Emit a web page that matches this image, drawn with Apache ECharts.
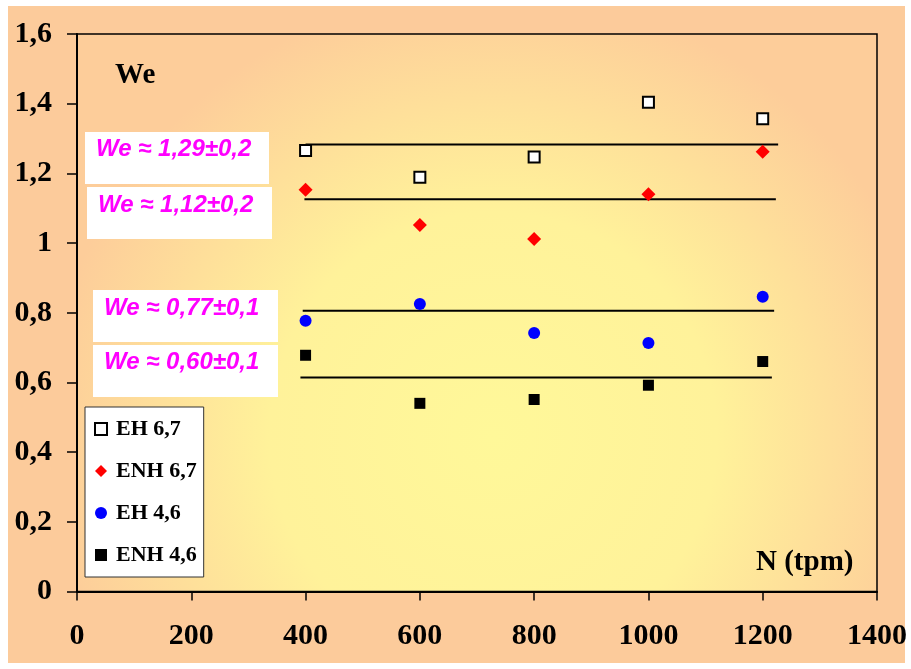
<!DOCTYPE html>
<html>
<head>
<meta charset="utf-8">
<script src="https://cdn.jsdelivr.net/npm/echarts@6/dist/echarts.min.js"></script>
<style>
html,body{margin:0;padding:0;background:#ffffff;}
#chart{position:absolute;left:0;top:0;width:911px;height:669px;}
</style>
</head>
<body>
<div id="chart"></div>
<script>
// ---- data ----
const xValues = [400, 600, 800, 1000, 1200];
const seriesNames = ['EH 6,7', 'ENH 6,7', 'EH 4,6', 'ENH 4,6'];
const eh67  = [1.266, 1.189, 1.247, 1.404, 1.357];
const enh67 = [1.153, 1.052, 1.012, 1.140, 1.262];
const eh46  = [0.777, 0.825, 0.742, 0.713, 0.846];
const enh46 = [0.678, 0.540, 0.551, 0.592, 0.660];
const fitLevels = [1.283, 1.126, 0.806, 0.614];
const fitStart  = [400, 398, 395, 391];
const fitEnd    = [1227, 1223, 1220, 1216];
const fitLabels = ['We ≈ 1,29±0,2', 'We ≈ 1,12±0,2', 'We ≈ 0,77±0,1', 'We ≈ 0,60±0,1'];
const yAxisTitle = 'We';
const xAxisTitle = 'N (tpm)';

// ---- chart ----
const chart = echarts.init(document.getElementById('chart'));
const pairs = arr => xValues.map((x, i) => [x, arr[i]]);
const serif = '"Liberation Serif", "Times New Roman", serif';
const sans = '"Liberation Sans", Arial, sans-serif';

const markerStyles = [
  {symbol: 'rect', symbolSize: 11, itemStyle: {color: '#ffffff', borderColor: '#000000', borderWidth: 2, opacity: 1}},
  {symbol: 'diamond', symbolSize: 14, itemStyle: {color: '#ff0000', opacity: 1}},
  {symbol: 'circle', symbolSize: 12, itemStyle: {color: '#0000ff', opacity: 1}},
  {symbol: 'rect', symbolSize: 11, itemStyle: {color: '#000000', opacity: 1}}
];
const dataSets = [eh67, enh67, eh46, enh46];

const series = [];
dataSets.forEach((d, i) => {
  series.push(Object.assign({
    name: seriesNames[i], type: 'scatter', data: pairs(d), z: 5
  }, markerStyles[i]));
});
fitLevels.forEach((lv, i) => {
  series.push({
    name: 'fit' + i, type: 'line', silent: true, symbol: 'none', z: 3,
    lineStyle: {color: '#000000', width: 2},
    data: [[fitStart[i], lv], [fitEnd[i], lv]]
  });
});

const boxes = [
  {x: 85, y: 132, w: 184, h: 52, tx: 96, ty: 149},
  {x: 87, y: 187, w: 185, h: 52, tx: 98, ty: 205},
  {x: 93, y: 290, w: 185, h: 52, tx: 104, ty: 308},
  {x: 93, y: 345, w: 185, h: 52, tx: 104, ty: 362}
];
const graphics = [
  {type: 'rect', z: -10, silent: true, shape: {x: 8, y: 6, width: 897, height: 657}, style: {fill: '#fccb9b'}}
];
boxes.forEach((b, i) => {
  graphics.push({type: 'rect', z: 10, silent: true, shape: {x: b.x, y: b.y, width: b.w, height: b.h}, style: {fill: '#ffffff'}});
  graphics.push({type: 'text', z: 11, silent: true, x: b.tx, y: b.ty,
    style: {text: fitLabels[i], font: 'italic bold 24px ' + sans, fill: '#ff00ff', textVerticalAlign: 'middle', verticalAlign: 'middle'}});
});
graphics.push({type: 'text', z: 11, silent: true, x: 115, y: 76,
  style: {text: yAxisTitle, font: 'bold 29px ' + serif, fill: '#000000', verticalAlign: 'middle', textVerticalAlign: 'middle'}});
graphics.push({type: 'text', z: 11, silent: true, x: 756, y: 563,
  style: {text: xAxisTitle, font: 'bold 29px ' + serif, fill: '#000000', verticalAlign: 'middle', textVerticalAlign: 'middle'}});

const fmt = v => String(Math.round(v * 10) / 10).replace('.', ',');

chart.setOption({
  animation: false,
  graphic: graphics,
  grid: {
    left: 77, top: 34, right: 34, bottom: 77.5,
    show: true, borderColor: '#000000', borderWidth: 1.5,
    backgroundColor: {
      type: 'radial', x: 0.52, y: 0.72, r: 0.8,
      colorStops: [
        {offset: 0, color: '#fff899'},
        {offset: 0.5, color: '#fff29a'},
        {offset: 1, color: '#fdcd9a'}
      ]
    }
  },
  legend: {
    data: seriesNames.map((n, i) => ({name: n, icon: markerStyles[i].symbol, itemStyle: markerStyles[i].itemStyle})),
    orient: 'vertical', left: 85, top: 407,
    backgroundColor: '#ffffff', borderColor: '#333333', borderWidth: 1,
    padding: [11, 7, 11, 9], itemGap: 20, itemWidth: 12, itemHeight: 12,
    textStyle: {fontFamily: serif, fontWeight: 'bold', fontSize: 22, color: '#000000', padding: [0, 0, 0, 4]},
    selectedMode: false
  },
  xAxis: {
    type: 'value', min: 0, max: 1400, interval: 200,
    splitLine: {show: false},
    axisLine: {lineStyle: {color: '#000000', width: 2}},
    axisTick: {length: 9, lineStyle: {color: '#000000', width: 1.5}},
    axisLabel: {margin: 30, color: '#000000', fontFamily: serif, fontWeight: 'bold', fontSize: 30, showMaxLabel: true, showMinLabel: true, formatter: v => String(v)}
  },
  yAxis: {
    type: 'value', min: 0, max: 1.6, interval: 0.2,
    splitLine: {show: false},
    axisLine: {show: true, lineStyle: {color: '#000000', width: 2}},
    axisTick: {show: true, length: 10, lineStyle: {color: '#000000', width: 1.5}},
    axisLabel: {margin: 25, color: '#000000', fontFamily: serif, fontWeight: 'bold', fontSize: 30, formatter: fmt}
  },
  series: series
});
</script>
</body>
</html>
